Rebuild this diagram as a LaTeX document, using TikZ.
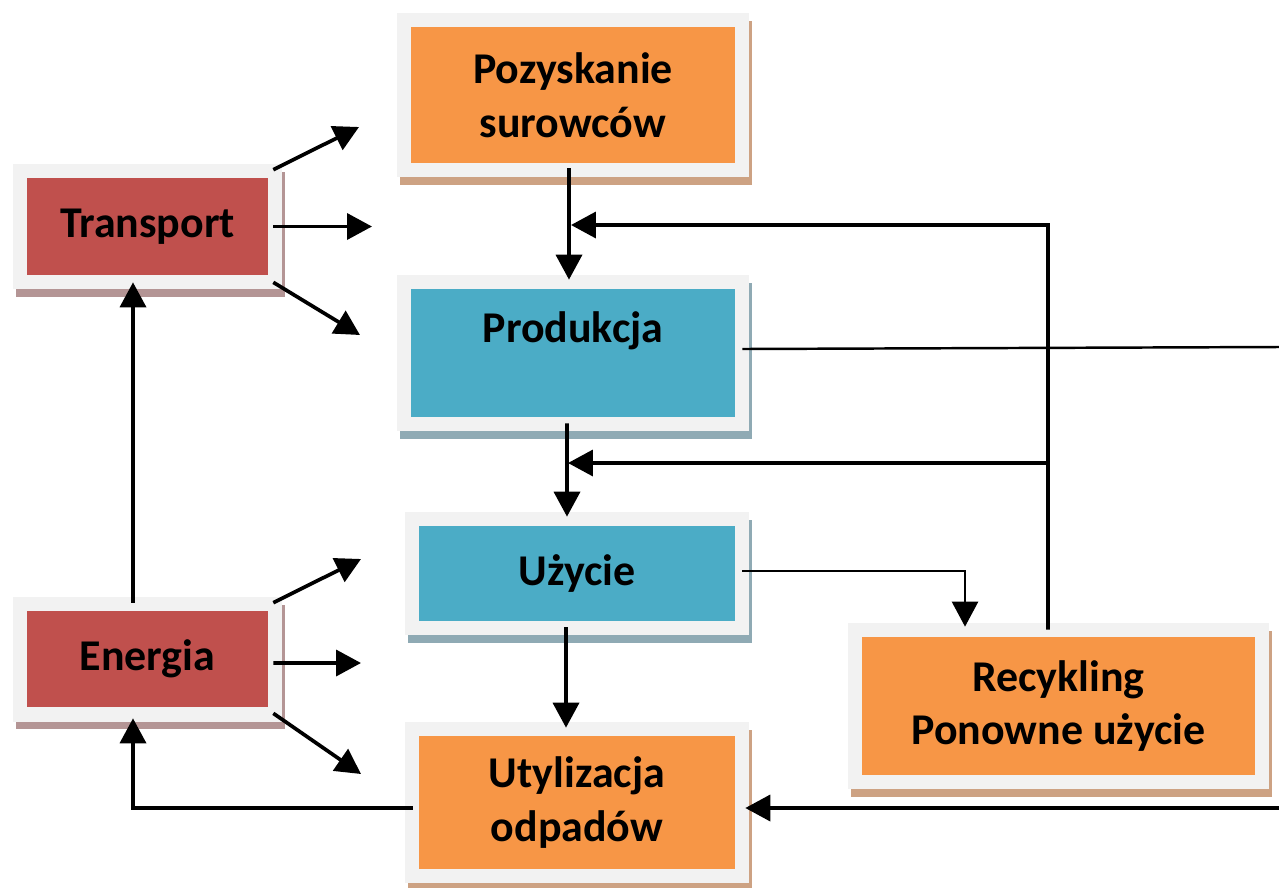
\documentclass[tikz,border=0pt]{standalone}
\usepackage{fontspec}
\setmainfont{Carlito}
\usetikzlibrary{arrows.meta}
\definecolor{framegray}{RGB}{242,242,242}
\definecolor{orangefill}{RGB}{247,150,70}
\definecolor{orangeshadow}{RGB}{205,162,131}
\definecolor{bluefill}{RGB}{75,172,198}
\definecolor{blueshadow}{RGB}{143,170,180}
\definecolor{redfill}{RGB}{192,80,77}
\definecolor{redshadow}{RGB}{180,149,149}
\tikzset{
  box/.style 2 args={fill=#1, inner sep=0pt, align=center,
    font=\fontsize{25}{30.5}\selectfont\bfseries,
    preaction={draw=#2, fill=#2, line width=0.58cm, transform canvas={shift={(0.06cm,-0.16cm)}}},
    preaction={draw=framegray, line width=0.58cm}},
  flow/.style={line width=2.1pt, -{Triangle[width=0.52cm,length=0.5cm]}},
  thinflow/.style={line width=1.4pt},
}
\begin{document}
\begin{tikzpicture}[x=0.02cm,y=-0.02cm]
\useasboundingbox (0,0) rectangle (1279,887);
\node[box={redfill}{redshadow}, minimum width=4.82cm, minimum height=1.94cm] (transport) at (147.5,226.5) {Transport};
\node[box={redfill}{redshadow}, minimum width=4.82cm, minimum height=1.92cm] (energia) at (147.5,659) {Energia};
\node[box={orangefill}{orangeshadow}, minimum width=6.48cm, minimum height=2.72cm] (pozyskanie) at (573,95) {Pozyskanie\\surowców};
\node[box={bluefill}{blueshadow}, minimum width=6.48cm, minimum height=2.56cm, text height=12pt, text depth=24.5pt] (produkcja) at (573,353) {Produkcja};
\node[box={bluefill}{blueshadow}, minimum width=6.32cm, minimum height=1.9cm] (uzycie) at (577,573.5) {Użycie};
\node[box={orangefill}{orangeshadow}, minimum width=6.32cm, minimum height=2.66cm] (utylizacja) at (577,802.5) {Utylizacja\\odpadów};
\node[box={orangefill}{orangeshadow}, minimum width=7.86cm, minimum height=2.76cm] (recykling) at (1058.5,706) {Recykling\\Ponowne użycie};
\coordinate (tr1) at (359,127);
\coordinate (tr2) at (372,226.5);
\coordinate (tr3) at (360,335);
\coordinate (en1) at (361,559);
\coordinate (en2) at (361,663);
\coordinate (en3) at (361,774);
\coordinate (fbtop) at (1048,225);
\coordinate (fbtoptip) at (571,225);
\coordinate (fbmid) at (1048,463);
\coordinate (fbmidtip) at (568,463);
\coordinate (redge1) at (1279,347);
\coordinate (redge2) at (1279,808);
\draw[flow] ([xshift=0.1cm,yshift=0.16cm]transport.north east) -- (tr1);
\draw[flow] ([xshift=0.1cm]transport.east) -- (tr2);
\draw[flow] ([xshift=0.1cm,yshift=-0.14cm]transport.south east) -- (tr3);
\draw[flow] ([xshift=0.1cm,yshift=0.16cm]energia.north east) -- (en1);
\draw[flow] ([xshift=0.1cm,yshift=-0.08cm]energia.east) -- (en2);
\draw[flow] ([xshift=0.1cm,yshift=-0.12cm]energia.south east) -- (en3);
\draw[flow] ([xshift=-0.29cm,yshift=0.16cm]energia.north) -- ([xshift=-0.29cm,yshift=-0.14cm]transport.south);
\draw[flow] ([xshift=-0.12cm,yshift=-0.11cm]utylizacja.west) -| ([xshift=-0.29cm,yshift=-0.22cm]energia.south);
\draw[flow] ([xshift=-0.08cm,yshift=-0.1cm]pozyskanie.south) -- ([xshift=-0.08cm,yshift=0.18cm]produkcja.north);
\draw[flow] ([xshift=-0.12cm,yshift=-0.12cm]produkcja.south) -- ([xshift=-0.2cm,yshift=0.18cm]uzycie.north);
\draw[flow] ([xshift=-0.22cm,yshift=-0.12cm]uzycie.south) -- ([xshift=-0.22cm,yshift=0.16cm]utylizacja.north);
\draw[flow] ([xshift=-0.21cm,yshift=0.14cm]recykling.north) -- (fbtop) -- (fbtoptip);
\draw[flow] (fbmid) -- (fbmidtip);
\draw[thinflow, -{Triangle[width=0.52cm,length=0.5cm]}] ([xshift=0.14cm,yshift=0.05cm]uzycie.east) -| ([xshift=-1.87cm,yshift=0.2cm]recykling.north);
\draw[thinflow] ([xshift=0.14cm,yshift=0.08cm]produkcja.east) -- (redge1);
\draw[flow] (redge2) -- ([xshift=0.2cm,yshift=-0.11cm]utylizacja.east);
\end{tikzpicture}
\end{document}
